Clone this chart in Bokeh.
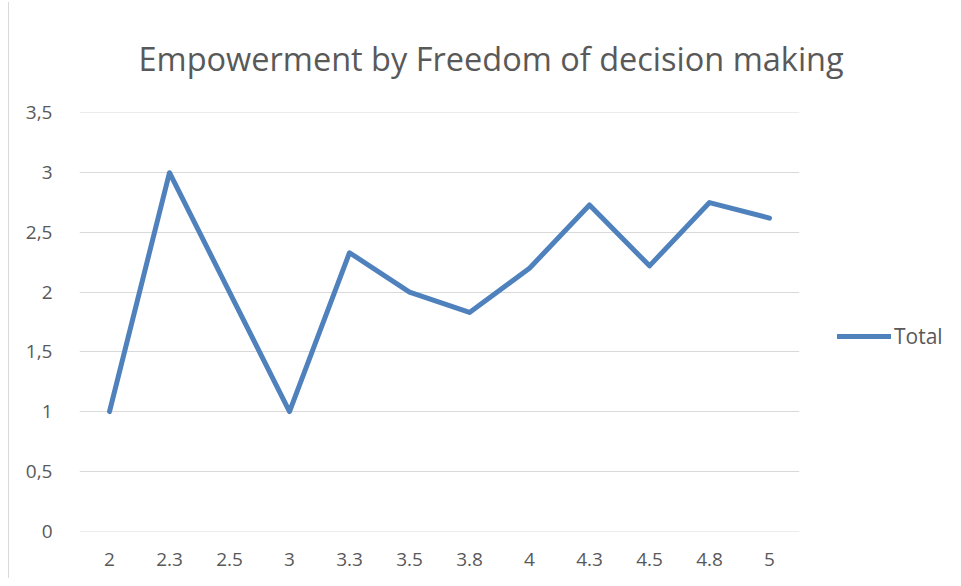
from bokeh.plotting import figure
from bokeh.models import FactorRange, FixedTicker, Legend, LegendItem, Title, ColumnDataSource
from bokeh.embed import file_html
from bokeh.resources import INLINE

categories = ["2", "2.3", "2.5", "3", "3.3", "3.5", "3.8", "4", "4.3", "4.5", "4.8", "5"]
total = [1.0, 3.0, 2.0, 1.0, 2.33, 2.0, 1.83, 2.2, 2.73, 2.22, 2.75, 2.62]
y_ticks = [0, 0.5, 1, 1.5, 2, 2.5, 3, 3.5]
y_tick_labels = ["0", "0,5", "1", "1,5", "2", "2,5", "3", "3,5"]
title_text = "Empowerment by Freedom of decision making"

FONT = "Open Sans"
TXT = "#595959"
GRID = "#d9d9d9"
BLUE = "#4f81bd"

p = figure(x_range=FactorRange(factors=categories), y_range=(-0.004, 3.504),
           frame_width=720, frame_height=419,
           min_border_left=70, min_border_top=99, min_border_bottom=47, min_border_right=155,
           output_backend="svg", toolbar_location=None, title=None)
p.margin = (2, 0, 0, 8)
p.styles = {"border-left": "1px solid #d9d9d9"}
p.outline_line_color = None

t = Title(text=title_text, align="left",
          text_font=FONT, text_font_size="32.5px", text_font_style="normal",
          text_color=TXT, standoff=63, offset=59)
p.add_layout(t, "above")

src = ColumnDataSource(dict(x=categories, y=total))
r = p.line("x", "y", source=src, line_color=BLUE, line_width=5,
           line_cap="round", line_join="round")

p.xgrid.grid_line_color = None
p.ygrid.grid_line_color = GRID
p.ygrid.grid_line_width = 1
p.yaxis.ticker = FixedTicker(ticks=y_ticks)
p.yaxis.major_label_overrides = {t_: l for t_, l in zip(y_ticks, y_tick_labels)}

for ax in (p.xaxis, p.yaxis):
    ax.axis_line_color = None
    ax.major_tick_line_color = None
    ax.minor_tick_line_color = None
    ax.major_label_text_font = FONT
    ax.major_label_text_font_size = "19px"
    ax.major_label_text_color = TXT
p.yaxis.major_label_standoff = 21
p.xaxis.major_label_standoff = 15

legend = Legend(items=[LegendItem(label="Total", renderers=[r])],
                location=(38, 181), orientation="vertical",
                glyph_width=54, glyph_height=20, label_standoff=3,
                label_text_font=FONT, label_text_font_size="21px", label_text_color=TXT,
                border_line_color=None, background_fill_alpha=0, padding=0, margin=0)
p.add_layout(legend, "right")

open("out.html", "w").write(file_html(p, INLINE))
